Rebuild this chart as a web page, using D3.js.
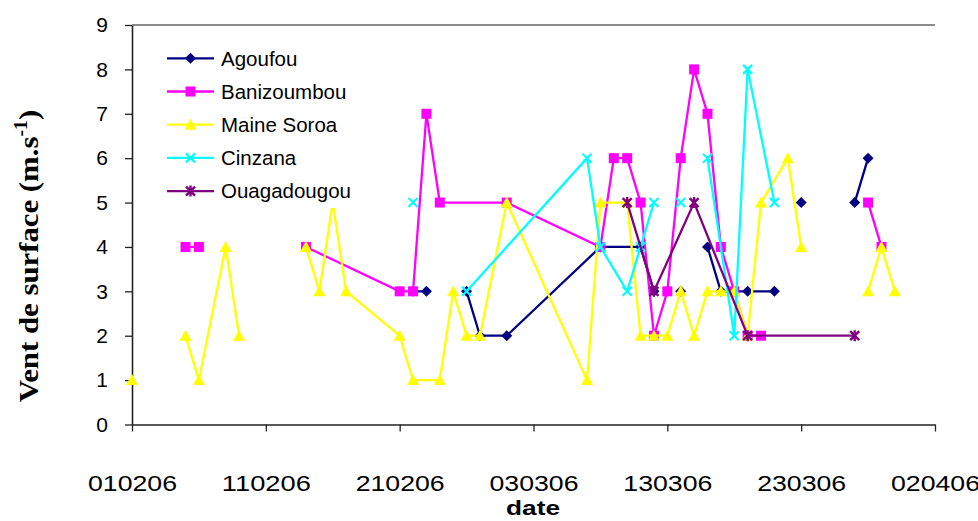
<!DOCTYPE html>
<html><head><meta charset="utf-8">
<script src="https://cdn.jsdelivr.net/npm/d3@7"></script>
<style>body{margin:0;background:#fff}svg{display:block}</style>
</head><body><svg id="c" width="978" height="521"></svg>
<script>
// ---- data ----
const tickLabels = ["010206","110206","210206","030306","130306","230306","020406"];
const yTicks = [0,1,2,3,4,5,6,7,8,9];
const seriesNames = ["Agoufou","Banizoumbou","Maine Soroa","Cinzana","Ouagadougou"];
const seriesColors = ["#000080","#FF00FF","#FFFF00","#00FFFF","#800080"];
const seriesMarkers = ["diamond","square","triangle","x","star"];

// null = gap in the line
const agoufouDates  = ["220206","230206",null,"260206","270206","010306","080306","110306","120306",null,"140306",null,"160306","170306","190306","210306",null,"230306",null,"270306","280306"];
const agoufouValues = [3,3,null,3,2,2,4,4,3,null,3,null,4,3,3,3,null,5,null,5,6];

const banizoumbouDates  = ["050206","060206",null,"140206","210206","220206","230206","240206","010306","080306","090306","100306","110306","120306","130306","140306","150306","160306","170306","180306","190306","200306",null,"280306","290306"];
const banizoumbouValues = [4,4,null,4,3,3,7,5,5,4,6,6,5,2,3,6,8,7,4,3,2,2,null,5,4];

const maineSoroaDates  = ["010206",null,"050206","060206","080206","090206",null,"140206","150206","160206","170206","210206","220206","240206","250206","260206","270206","010306","070306","080306","100306","110306","120306","130306","140306","150306","160306","170306","180306","190306","200306","220306","230306",null,"280306","290306","300306"];
const maineSoroaValues = [1,null,2,1,4,2,null,4,3,5,3,2,1,1,3,2,2,5,1,5,5,2,2,2,3,2,3,3,3,2,5,6,4,null,3,4,3];

const cinzanaDates  = ["220206",null,"260206","070306","080306","100306","110306","120306",null,"140306",null,"160306","180306","190306","210306"];
const cinzanaValues = [5,null,3,6,4,3,4,5,null,5,null,6,2,8,5];

const ouagaDates  = ["100306","120306","150306","190306","270306"];
const ouagaValues = [5,3,5,2,2];

const allDates  = [agoufouDates, banizoumbouDates, maineSoroaDates, cinzanaDates, ouagaDates];
const allValues = [agoufouValues, banizoumbouValues, maineSoroaValues, cinzanaValues, ouagaValues];

// ---- chart ----
const parse = d3.timeParse("%d%m%y");
const svg = d3.select("#c");
const W = 978, H = 521;
const m = {left:132, right:43, top:25, bottom:96.5};

const x = d3.scaleTime()
  .domain([parse(tickLabels[0]), parse(tickLabels[tickLabels.length-1])])
  .range([m.left, W - m.right]);
const y = d3.scaleLinear().domain([0,9]).range([H - m.bottom, m.top]);

// plot area top border
svg.append("line")
  .attr("x1", x.range()[0]).attr("x2", x.range()[1])
  .attr("y1", y(9)).attr("y2", y(9))
  .attr("stroke", "#8c8c8c").attr("stroke-width", 2);

// axes
const xAxis = d3.axisBottom(x)
  .tickValues(tickLabels.map(parse))
  .tickSize(7).tickSizeOuter(0)
  .tickFormat(d3.timeFormat("%d%m%y"));
const gx = svg.append("g").attr("transform", `translate(0,${y(0)})`).call(xAxis);
gx.select(".domain").attr("stroke", "#222").attr("stroke-width", 1.6);
gx.selectAll(".tick line").attr("stroke", "#222").attr("stroke-width", 1.3);
gx.selectAll(".tick text")
  .attr("y", 51).attr("dy", "0.71em")
  .attr("font-family", "'Liberation Sans', Arial, sans-serif")
  .attr("font-size", 22).attr("fill", "#000")
  .attr("textLength", 89).attr("lengthAdjust", "spacingAndGlyphs");

const yAxis = d3.axisLeft(y).tickValues(yTicks).tickSize(7).tickSizeOuter(0).tickPadding(17);
const gy = svg.append("g").attr("transform", `translate(${m.left},0)`).call(yAxis);
gy.select(".domain").attr("stroke", "#222").attr("stroke-width", 1.6);
gy.selectAll(".tick line").attr("stroke", "#222").attr("stroke-width", 1.3);
gy.selectAll(".tick text")
  .attr("font-family", "'Liberation Sans', Arial, sans-serif")
  .attr("font-size", 21).attr("fill", "#000");

// axis titles
svg.append("text")
  .attr("x", 533).attr("y", 515)
  .attr("text-anchor", "middle")
  .attr("font-family", "'Liberation Sans', Arial, sans-serif")
  .attr("font-weight", "bold").attr("font-size", 21)
  .attr("textLength", 54).attr("lengthAdjust", "spacingAndGlyphs")
  .text("date");

const yt = svg.append("text")
  .attr("transform", "translate(38,256) rotate(-90) scale(1.1,1)")
  .attr("text-anchor", "middle")
  .attr("font-family", "'Liberation Serif', 'Times New Roman', serif")
  .attr("font-weight", "bold").attr("font-size", 28)
  .attr("fill", "#000");
yt.append("tspan").text("Vent de surface (m.s");
yt.append("tspan").attr("dy", -11).attr("font-size", 18).text("-1");
yt.append("tspan").attr("dy", 11).text(")");

// markers
function drawMarker(g, type, color) {
  if (type === "diamond") {
    g.append("path").attr("d", "M0,-5.5L5.5,0L0,5.5L-5.5,0Z").attr("fill", color);
  } else if (type === "square") {
    g.append("rect").attr("x", -5).attr("y", -5).attr("width", 10).attr("height", 10).attr("fill", color);
  } else if (type === "triangle") {
    g.append("path").attr("d", "M0,-6L6,5L-6,5Z").attr("fill", color);
  } else if (type === "x") {
    g.append("path").attr("d", "M-4.5,-4.5L4.5,4.5M-4.5,4.5L4.5,-4.5").attr("stroke", color).attr("stroke-width", 2.2).attr("fill", "none");
  } else if (type === "star") {
    g.append("path").attr("d", "M-4.5,-4.5L4.5,4.5M-4.5,4.5L4.5,-4.5M0,-5.5L0,5.5").attr("stroke", color).attr("stroke-width", 2.4).attr("fill", "none");
  }
}

const line = d3.line()
  .defined(d => d.t != null && d.v != null)
  .x(d => x(d.t)).y(d => y(d.v));

seriesNames.forEach((name, i) => {
  const pts = allDates[i].map((ds, j) => ({t: ds ? parse(ds) : null, v: allValues[i][j]}));
  const g = svg.append("g");
  g.append("path").datum(pts).attr("d", line)
    .attr("fill", "none").attr("stroke", seriesColors[i]).attr("stroke-width", 2.3)
    .attr("stroke-linejoin", "miter");
  pts.filter(p => p.t != null && p.v != null).forEach(p => {
    const mg = g.append("g").attr("transform", `translate(${x(p.t)},${y(p.v)})`);
    drawMarker(mg, seriesMarkers[i], seriesColors[i]);
  });
});

// legend
const lg = svg.append("g");
lg.append("rect").attr("x", 155).attr("y", 38).attr("width", 235).attr("height", 170).attr("fill", "#fff");
seriesNames.forEach((name, i) => {
  const cy = 58.3 + i * 33.2;
  lg.append("line").attr("x1", 167).attr("x2", 214).attr("y1", cy).attr("y2", cy)
    .attr("stroke", seriesColors[i]).attr("stroke-width", 2.3);
  const mg = lg.append("g").attr("transform", `translate(190.5,${cy})`);
  drawMarker(mg, seriesMarkers[i], seriesColors[i]);
  lg.append("text").attr("x", 221).attr("y", cy).attr("dy", "0.36em")
    .attr("font-family", "'Liberation Sans', Arial, sans-serif")
    .attr("font-size", 20.5).attr("fill", "#000").text(name);
});
</script>
</body></html>
